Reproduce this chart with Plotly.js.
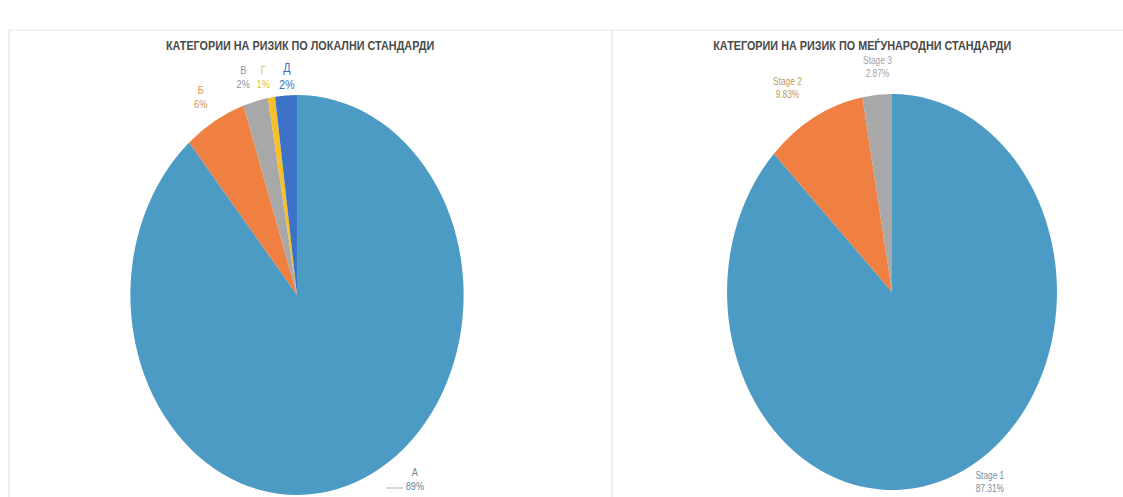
<!DOCTYPE html>
<html>
<head>
<meta charset="utf-8">
<script src="https://cdn.plot.ly/plotly-3.0.1.min.js"></script>
<style>
html,body{margin:0;padding:0;background:#fff;overflow:hidden;}
#wrap{width:1123px;height:497px;overflow:hidden;position:relative;}
#plot{width:1348px;height:497px;transform:scaleX(0.83309);transform-origin:0 0;}
</style>
</head>
<body>
<div id="wrap"><div id="plot"></div></div>
<script>
// ---- data ----
const localTitle = 'КАТЕГОРИИ НА РИЗИК ПО ЛОКАЛНИ СТАНДАРДИ';
const localLabels = ['А', 'Б', 'В', 'Г', 'Д'];
const localValues = [88.8, 6.0, 2.4, 0.7, 2.1];

const intlTitle = 'КАТЕГОРИИ НА РИЗИК ПО МЕЃУНАРОДНИ СТАНДАРДИ';
const intlLabels = ['Stage 1', 'Stage 2', 'Stage 3'];
const intlValues = [87.31, 9.83, 2.87];

// ---- styles / positions ----
const W = 1348, H = 497, REFW = 1123;
const localColors = ['#4b9bc5', '#ef8042', '#a8a8a8', '#f5c02a', '#3b72c6'];
const localTextColors = ['#6a8299', '#e2904e', '#8a97ab', '#e0c040', '#3a6fc0'];
const intlColors = ['#4b9bc5', '#ef8042', '#a8a8a8'];
const intlTextColors = ['#7b8c9c', '#b89a58', '#a2a2a8'];
// label anchor points in reference pixel space
const localLabelPos = [[415, 479], [201, 97], [243, 77], [263, 77], [287, 76]];
const intlLabelPos = [[990, 482], [788, 88], [878, 67]];

function px2x(x) { return x / REFW; }
function px2y(y) { return 1 - y / H; }
function dom(cx, cy, r) {
  const hx = r / W, hy = r / H;
  return { x: [px2x(cx) - hx, px2x(cx) + hx], y: [px2y(cy) - hy, px2y(cy) + hy] };
}

const traces = [
  {
    type: 'pie', labels: localLabels, values: localValues,
    marker: { colors: localColors, line: { width: 0 } },
    sort: false, direction: 'clockwise', rotation: 0,
    textinfo: 'none', hoverinfo: 'label+percent',
    domain: dom(297, 295, 200)
  },
  {
    type: 'pie', labels: intlLabels, values: intlValues,
    marker: { colors: intlColors, line: { width: 0 } },
    sort: false, direction: 'clockwise', rotation: 0,
    textinfo: 'none', hoverinfo: 'label+percent',
    domain: dom(892, 292, 198)
  }
];

const annotations = [];
const fontFam = 'Liberation Sans, Arial, sans-serif';
annotations.push({ text: '<b>' + localTitle + '</b>', x: px2x(300), y: px2y(45), xref: 'paper', yref: 'paper',
  xanchor: 'center', yanchor: 'middle',
  showarrow: false, font: { family: fontFam, size: 13, color: '#4a4a4a' } });
annotations.push({ text: '<b>' + intlTitle + '</b>', x: px2x(862), y: px2y(45), xref: 'paper', yref: 'paper',
  xanchor: 'center', yanchor: 'middle',
  showarrow: false, font: { family: fontFam, size: 13, color: '#4a4a4a' } });

const lsum = localValues.reduce((a, b) => a + b, 0);
localLabels.forEach((l, i) => {
  annotations.push({
    text: l + '<br>' + Math.round(localValues[i] / lsum * 100) + '%',
    x: px2x(localLabelPos[i][0]), y: px2y(localLabelPos[i][1]), xref: 'paper', yref: 'paper',
    showarrow: false, xanchor: 'center', yanchor: 'middle',
    font: { family: fontFam, size: i === 4 ? 13 : 11, color: localTextColors[i] }
  });
});
intlLabels.forEach((l, i) => {
  annotations.push({
    text: l + '<br>' + intlValues[i].toFixed(2) + '%',
    x: px2x(intlLabelPos[i][0]), y: px2y(intlLabelPos[i][1]), xref: 'paper', yref: 'paper',
    showarrow: false, xanchor: 'center', yanchor: 'middle',
    font: { family: fontFam, size: 10, color: intlTextColors[i] }
  });
});

const shapes = [
  // panel borders
  { type: 'line', xref: 'paper', yref: 'paper', x0: px2x(9), x1: px2x(9), y0: 0, y1: px2y(30), line: { color: '#dcdcdc', width: 1.2 } },
  { type: 'line', xref: 'paper', yref: 'paper', x0: px2x(612), x1: px2x(612), y0: 0, y1: px2y(30), line: { color: '#dcdcdc', width: 1.2 } },
  { type: 'line', xref: 'paper', yref: 'paper', x0: px2x(9), x1: 1, y0: px2y(30), y1: px2y(30), line: { color: '#e6e6e6', width: 1 } },
  // leader line for А
  { type: 'line', xref: 'paper', yref: 'paper', x0: px2x(386), x1: px2x(403), y0: px2y(488), y1: px2y(488), line: { color: '#9aaabb', width: 1 } }
];

Plotly.newPlot('plot', traces, {
  width: W, height: H,
  margin: { l: 0, r: 0, t: 0, b: 0 },
  showlegend: false,
  paper_bgcolor: '#ffffff',
  annotations: annotations,
  shapes: shapes
}, { staticPlot: true, displayModeBar: false });
</script>
</body>
</html>
